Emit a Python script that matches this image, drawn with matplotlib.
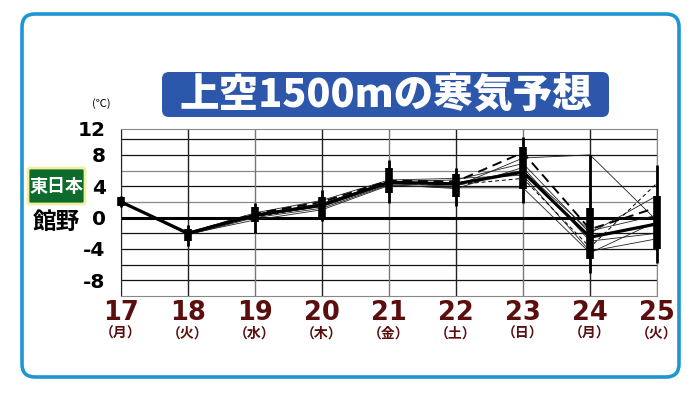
import matplotlib
matplotlib.use('Agg')
import matplotlib.pyplot as plt
from matplotlib.patches import FancyBboxPatch

plt.rcParams['font.family'] = ['Noto Sans CJK JP', 'DejaVu Sans']

# forecast days
days = [17, 18, 19, 20, 21, 22, 23, 24, 25]
weekdays = ['（月）', '（火）', '（水）', '（木）', '（金）', '（土）', '（日）', '（月）', '（火）']

# ensemble spread: box (25-75%) and whiskers (min-max), in deg C
box_lo = [1.5, -3.0, -0.6, 0.0, 3.2, 2.6, 3.7, -5.3, -4.0]
box_hi = [2.6, -1.4, 1.3, 2.6, 6.3, 5.6, 9.0, 1.2, 2.7]
whisk_lo = [1.3, -3.6, -2.0, -0.4, 1.9, 1.5, 1.9, -7.1, -5.8]
whisk_hi = [2.8, -0.9, 1.8, 3.5, 7.3, 6.3, 10.3, 8.0, 6.7]

# control run (thick) and mean (dashed)
control = [2.0, -2.0, 0.3, 1.6, 4.5, 4.3, 5.8, -2.5, -0.8]
mean = [2.0, -2.0, 0.5, 2.0, 4.7, 4.6, 8.3, -1.5, 1.3]

# individual members (thin lines)
m1 = [2.0, -2.1, 0.2, 1.4, 4.3, 4.0, 7.6, 8.0, -0.4]
m2 = [2.0, -2.0, 0.4, 1.8, 4.6, 4.8, 6.9, -2.0, 2.8]
m3 = [2.0, -2.2, 0.0, 1.2, 4.2, 3.7, 6.4, -3.0, -2.0]
m4 = [2.0, -1.9, 0.6, 2.2, 4.8, 5.0, 5.4, -4.3, -2.7]
m5 = [2.0, -2.0, 0.1, 1.5, 4.4, 4.2, 5.0, -3.8, 4.4]
m6 = [2.0, -2.1, -0.3, 1.0, 4.1, 3.8, 3.8, -4.5, -0.5]
m7 = [2.0, -2.0, 0.3, 1.7, 4.5, 4.4, 6.0, -1.7, 0.3]

fig = plt.figure(figsize=(7, 3.93), dpi=100)

# background layer in pixel units for frame and labels
bg = fig.add_axes([0, 0, 1, 1], zorder=0)
bg.set_xlim(0, 700)
bg.set_ylim(393, 0)
bg.axis('off')

frame = FancyBboxPatch((22, 14), 657, 363, boxstyle='round,pad=0,rounding_size=13',
                       fc='white', ec='#1e96d3', lw=2.6)
bg.add_patch(frame)

title_box = FancyBboxPatch((162, 72), 447, 45, boxstyle='round,pad=0,rounding_size=7',
                           fc='#2c57ab', ec='none')
bg.add_patch(title_box)
bg.text(386, 95, '上空1500mの寒気予想', color='white', fontsize=28.5, fontweight='black',
        ha='center', va='center')

badge = FancyBboxPatch((28, 168), 57, 36, boxstyle='round,pad=0,rounding_size=2',
                       fc='#0d6b2c', ec='#f2eea0', lw=2)
bg.add_patch(badge)
bg.text(56.5, 186, '東日本', color='white', fontsize=13, fontweight='bold',
        ha='center', va='center')
bg.text(56, 222, '館野', color='black', fontsize=17, fontweight='bold',
        ha='center', va='center')
bg.text(101, 104, '(℃)', color='black', fontsize=8, ha='center', va='center')

# chart
ax = fig.add_axes([121 / 700, 1 - 296 / 393, 536 / 700, 167 / 393], zorder=1)
ax.patch.set_alpha(0)
ax.set_xlim(17, 25)
ax.set_ylim(-10, 11.3)

for y in range(-8, 11, 2):
    if y == 0:
        continue
    c = '#888888' if y in (2, 6) else '#111111'
    ax.axhline(y, color=c, lw=0.9, zorder=1)
ax.axhline(0, color='black', lw=2.2, zorder=2)
for i, d in enumerate(days):
    c = '#777777' if i % 2 == 0 else '#222222'
    ax.axvline(d, color=c, lw=1.0, zorder=1)

for s in ['left', 'right', 'top', 'bottom']:
    ax.spines[s].set_color('#888888')
ax.spines['left'].set_color('#222222')

for m in [m1, m2, m3, m4, m6, m7]:
    ax.plot(days, m, color='#222222', lw=0.6, zorder=3, clip_on=False)
ax.plot(days, m5, color='black', lw=0.7, ls=(0, (4, 3)), zorder=3, clip_on=False)
ax.plot(days, mean, color='black', lw=1.4, ls=(0, (5, 3)), zorder=4, clip_on=False)
ax.plot(days, control, color='black', lw=2.3, zorder=4, clip_on=False)

ax.vlines(days, whisk_lo, whisk_hi, color='black', lw=2.0, zorder=5,
          capstyle='butt', clip_on=False)
ax.vlines(days, box_lo, box_hi, color='black', lw=5.5, zorder=5,
          capstyle='butt', clip_on=False)

ax.set_yticks([-8, -4, 0, 4, 8, 11.3])
ax.set_yticklabels(['-8', '-4', '0', '4', '8', '12'])
ax.tick_params(axis='y', length=0, pad=11, labelsize=14.5)
for t in ax.get_yticklabels():
    t.set_fontweight('bold')
    t.set_fontfamily(['DejaVu Sans'])
ax.set_xticks(days)
ax.set_xticklabels([])
ax.tick_params(axis='x', length=0)

for d, w in zip(days, weekdays):
    px = 121 + (d - 17) * 67
    bg.text(px, 313, str(d), color='#5a0e0e', fontsize=18.5, fontweight='bold',
            ha='center', va='center', family=['DejaVu Sans'])
    bg.text(px, 334, w, color='#5a0e0e', fontsize=10, fontweight='bold',
            ha='center', va='center')

fig.savefig('out.png', dpi=100)
